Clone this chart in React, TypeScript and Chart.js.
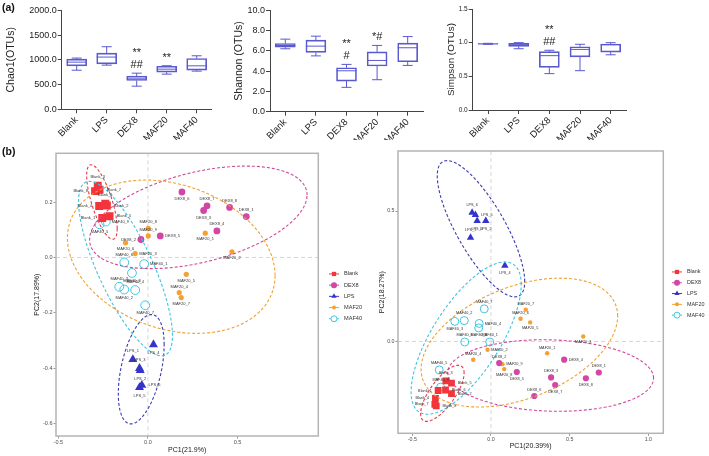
import React, { useEffect, useRef } from 'react';
import { Chart, registerables } from 'chart.js';

Chart.register(...registerables);

const FONT = "'Liberation Sans', Arial, Helvetica, sans-serif";

// ---------- (a) alpha diversity box plots ----------
const groups = ['Blank', 'LPS', 'DEX8', 'MAF20', 'MAF40'];

const chaoMin = [790, 892, 467, 710, 771];
const chaoQ1 = [878, 919, 581, 750, 791];
const chaoMed = [953, 1055, 615, 811, 878];
const chaoQ3 = [1014, 1136, 670, 870, 1027];
const chaoMax = [1035, 1264, 730, 880, 1081];
const chaoSig = [[], [], ['**', '##'], ['**'], []];
const chaoTicks = [0, 500, 1000, 1500, 2000];

const shannonMin = [6.2, 5.5, 2.4, 3.15, 4.56];
const shannonQ1 = [6.36, 5.84, 3.02, 4.5, 4.92];
const shannonMed = [6.52, 6.46, 4.03, 5.05, 6.3];
const shannonQ3 = [6.72, 7.05, 4.33, 5.9, 6.75];
const shannonMax = [7.15, 7.44, 4.66, 6.53, 7.4];
const shannonSig = [[], [], ['**', '#'], ['*#'], []];
const shannonTicks = [0, 2, 4, 6, 8, 10];

const simpsonMin = [0.975, 0.91, 0.54, 0.584, 0.82];
const simpsonQ1 = [0.978, 0.946, 0.634, 0.79, 0.86];
const simpsonMed = [0.982, 0.966, 0.807, 0.9, 0.97];
const simpsonQ3 = [0.986, 0.99, 0.866, 0.94, 0.98];
const simpsonMax = [0.99, 1.0, 0.887, 0.976, 1.0];
const simpsonSig = [[], [], ['**', '##'], [], []];
const simpsonTicks = [0, 0.5, 1.0, 1.5];

// ---------- (b) PCA scatter plots ----------
const pcaGroups = ['Blank', 'DEX8', 'LPS', 'MAF20', 'MAF40'];

const leftBlank = [[-0.28, 0.26], [-0.295, 0.24], [-0.27, 0.245], [-0.238, 0.195], [-0.272, 0.186], [-0.229, 0.188], [-0.255, 0.143], [-0.214, 0.149]];
const leftBlankIds = [3, 8, 7, 6, 4, 2, 1, 5];
const leftDex = [[0.19, 0.237], [0.33, 0.187], [0.311, 0.17], [0.456, 0.181], [0.549, 0.148], [0.385, 0.096], [0.069, 0.078], [-0.039, 0.065]];
const leftDexIds = [6, 7, 3, 8, 1, 4, 5, 2];
const leftLps = [[0.031, -0.315], [-0.084, -0.369], [-0.047, -0.401], [-0.043, -0.409], [-0.034, -0.462], [-0.047, -0.47]];
const leftLpsIds = [4, 1, 3, 2, 6, 5];
const leftMaf20 = [[0.002, 0.105], [0.002, 0.078], [-0.125, 0.053], [-0.071, 0.014], [0.32, 0.088], [0.469, 0.02], [0.214, -0.061], [0.175, -0.127], [0.186, -0.145]];
const leftMaf20Ids = [8, 9, 6, 3, 1, 2, 5, 4, 7];
const leftMaf40 = [[-0.132, -0.018], [-0.021, -0.024], [-0.089, -0.056], [-0.16, -0.106], [-0.132, -0.116], [-0.071, -0.118], [-0.015, -0.173], [-0.235, 0.13], [-0.27, 0.12]];
const leftMaf40Ids = [6, 1, 8, 3, 2, 4, 7, 9, 5];
const leftXTicks = [-0.5, 0, 0.5];
const leftYTicks = [-0.6, -0.4, -0.2, 0, 0.2];

const rightBlank = [[-0.287, -0.151], [-0.251, -0.16], [-0.336, -0.188], [-0.289, -0.186], [-0.251, -0.2], [-0.353, -0.218], [-0.357, -0.241], [-0.348, -0.247]];
const rightBlankIds = [3, 5, 1, 6, 2, 4, 7, 8];
const rightDex = [[0.052, -0.083], [0.164, -0.117], [0.465, -0.07], [0.382, -0.138], [0.408, -0.167], [0.603, -0.141], [0.685, -0.119], [0.275, -0.209]];
const rightDexIds = [2, 5, 4, 3, 7, 8, 1, 6];
const rightLps = [[-0.12, 0.494], [-0.099, 0.485], [-0.088, 0.462], [-0.033, 0.462], [-0.13, 0.398], [0.088, 0.291]];
const rightLpsIds = [6, 5, 3, 2, 1, 4];
const rightMaf20 = [[0.221, 0.122], [0.188, 0.087], [0.249, 0.073], [0.586, 0.019], [0.357, -0.045], [-0.022, -0.032], [-0.113, -0.07], [0.073, -0.087], [0.084, -0.106]];
const rightMaf20Ids = [7, 6, 5, 3, 1, 2, 4, 9, 8];
const rightMaf40 = [[-0.043, 0.125], [-0.17, 0.08], [-0.23, 0.077], [-0.075, 0.069], [-0.078, 0.052], [-0.167, -0.002], [-0.008, -0.002], [-0.329, -0.109], [-0.32, -0.175]];
const rightMaf40Ids = [7, 2, 3, 4, 8, 6, 1, 5, 9];
const rightXTicks = [-0.5, 0, 0.5, 1.0];
const rightYTicks = [0, 0.5];

// label placement (style only): t=top, b=bottom, l=left, r=right
const leftSides = [
  ['t', 'l', 'r', 't', 'l', 'r', 'l', 'r'],
  ['b', 't', 'b', 't', 't', 't', 'r', 'l'],
  ['b', 't', 't', 'b', 'r', 'b'],
  ['t', 't', 'b', 'r', 'b', 'b', 'b', 't', 'b'],
  ['t', 'r', 'b', 't', 'b', 't', 'b', 'r', 'b'],
];
const rightSides = [
  ['t', 'r', 'l', 'r', 'r', 'l', 'l', 'r'],
  ['t', 'b', 'r', 't', 'b', 'b', 't', 't'],
  ['t', 'r', 'b', 'b', 't', 'b'],
  ['t', 't', 'b', 'b', 't', 'r', 't', 'r', 'b'],
  ['t', 't', 'b', 'r', 'b', 't', 't', 't', 't'],
];

const groupStyles = [
  { shape: 'rect', color: '#f3343a', fill: '#f3343a', bw: 0, line: '#e83a4a' },
  { shape: 'circle', color: '#d246a6', fill: '#d246a6', bw: 0, line: '#d0489a' },
  { shape: 'triangle', color: '#3434cc', fill: '#3434cc', bw: 0, line: '#3b3bb0' },
  { shape: 'circle', color: '#f5a033', fill: '#f5a033', bw: 0, line: '#f0a030' },
  { shape: 'circle', color: '#3fc6e4', fill: 'rgba(255,255,255,0)', bw: 1, line: '#3cc4e2' },
];

const BOX_COLOR = '#5959d0';
const AXIS = '#444';

function drawShape(ctx: any, shape: string, x: number, y: number, r: number, fill: string, stroke: string, bw: number) {
  ctx.beginPath();
  if (shape === 'rect') {
    const s = r * Math.SQRT1_2;
    ctx.rect(x - s, y - s, 2 * s, 2 * s);
  } else if (shape === 'triangle') {
    for (let k = 0; k < 3; k++) {
      const a = -Math.PI / 2 + (k * 2 * Math.PI) / 3;
      const px = x + Math.cos(a) * r;
      const py = y + Math.sin(a) * r;
      if (k === 0) ctx.moveTo(px, py);
      else ctx.lineTo(px, py);
    }
    ctx.closePath();
  } else {
    ctx.arc(x, y, r, 0, Math.PI * 2);
  }
  ctx.fillStyle = fill;
  ctx.fill();
  if (bw) {
    ctx.lineWidth = bw;
    ctx.strokeStyle = stroke;
    ctx.stroke();
  }
}

function boxChart(canvas: HTMLCanvasElement, s: any) {
  const plugin = {
    id: 'whiskers',
    afterDatasetsDraw(chart: any) {
      const { ctx } = chart;
      const x = chart.scales.x;
      const y = chart.scales.y;
      ctx.save();
      ctx.strokeStyle = BOX_COLOR;
      ctx.lineWidth = 1;
      const line = (x1: number, y1: number, x2: number, y2: number) => {
        ctx.beginPath();
        ctx.moveTo(x1, y1);
        ctx.lineTo(x2, y2);
        ctx.stroke();
      };
      s.med.forEach((m: number, i: number) => {
        const cx = x.getPixelForValue(i);
        const yMax = y.getPixelForValue(s.max[i]);
        const yMin = y.getPixelForValue(s.min[i]);
        line(cx, yMax, cx, y.getPixelForValue(s.q3[i]));
        line(cx, y.getPixelForValue(s.q1[i]), cx, yMin);
        line(cx - 5, yMax, cx + 5, yMax);
        line(cx - 5, yMin, cx + 5, yMin);
        const ym = y.getPixelForValue(m);
        line(cx - 10, ym, cx + 10, ym);
      });
      ctx.fillStyle = '#222';
      ctx.font = `11px ${FONT}`;
      ctx.textAlign = 'center';
      ctx.textBaseline = 'alphabetic';
      s.sig.forEach((lines: string[], i: number) => {
        const cx = x.getPixelForValue(i);
        let base = y.getPixelForValue(s.max[i]) - 5;
        for (let k = lines.length - 1; k >= 0; k--) {
          ctx.fillText(lines[k], cx, base);
          base -= 12;
        }
      });
      ctx.restore();
    },
  };
  return new Chart(canvas, {
    type: 'bar',
    data: {
      labels: groups,
      datasets: [
        {
          data: s.q1.map((v: number, i: number) => [v, s.q3[i]]),
          backgroundColor: 'rgba(0,0,0,0)',
          borderColor: BOX_COLOR,
          borderWidth: 1,
          borderSkipped: false,
          barThickness: 20,
        },
      ],
    },
    options: {
      responsive: false,
      animation: false,
      events: [],
      layout: { padding: { top: s.padTop, right: s.padRight, left: 0, bottom: 0 } },
      plugins: { legend: { display: false }, tooltip: { enabled: false } },
      scales: {
        x: {
          type: 'category',
          offset: true,
          grid: { display: true, drawOnChartArea: false, drawTicks: true, tickLength: 4, color: AXIS, offset: false },
          border: { display: true, color: AXIS, width: 1 },
          ticks: { autoSkip: false, minRotation: 45, maxRotation: 45, padding: 1, color: '#222', font: { family: FONT, size: 9.5 } },
          afterFit: (sc: any) => { sc.height = s.xH; },
        },
        y: {
          type: 'linear',
          min: s.ticks[0],
          max: s.ticks[s.ticks.length - 1],
          afterBuildTicks: (sc: any) => { sc.ticks = s.ticks.map((v: number) => ({ value: v })); },
          grid: { display: true, drawOnChartArea: false, drawTicks: true, tickLength: 4, color: AXIS },
          border: { display: true, color: AXIS, width: 1 },
          ticks: { padding: 1, color: '#222', font: { family: FONT, size: s.tickSize }, callback: (v: any) => Number(v).toFixed(1) },
          title: { display: true, text: s.title, color: '#222', font: { family: FONT, size: s.titleSize }, padding: { top: s.titlePad, bottom: 0 } },
          afterFit: (sc: any) => { sc.width = s.yW; },
        },
      },
    },
    plugins: [plugin],
  } as any);
}

function ellipsePoints(pts: number[][], level: number) {
  const n = pts.length;
  const mx = pts.reduce((a, p) => a + p[0], 0) / n;
  const my = pts.reduce((a, p) => a + p[1], 0) / n;
  let sxx = 0, syy = 0, sxy = 0;
  pts.forEach(([x, y]) => {
    sxx += (x - mx) * (x - mx);
    syy += (y - my) * (y - my);
    sxy += (x - mx) * (y - my);
  });
  sxx /= n - 1; syy /= n - 1; sxy /= n - 1;
  const dfd = n - 1;
  const q = (dfd / 2) * (Math.pow(1 - level, -2 / dfd) - 1); // F(2, n-1) quantile
  const r = Math.sqrt(2 * q);
  const u11 = Math.sqrt(sxx);
  const u12 = sxy / u11;
  const u22 = Math.sqrt(Math.max(syy - u12 * u12, 0));
  const out: number[][] = [];
  for (let k = 0; k <= 100; k++) {
    const t = (k / 100) * Math.PI * 2;
    const c = Math.cos(t), sn = Math.sin(t);
    out.push([mx + r * c * u11, my + r * (c * u12 + sn * u22)]);
  }
  return out;
}

function pcaChart(canvas: HTMLCanvasElement, p: any) {
  const plugin = {
    id: 'pcaDecor',
    beforeDatasetsDraw(chart: any) {
      const { ctx, chartArea: a } = chart;
      const x = chart.scales.x, y = chart.scales.y;
      ctx.save();
      ctx.strokeStyle = '#d6d6d6';
      ctx.lineWidth = 1;
      ctx.setLineDash([4, 3]);
      const x0 = x.getPixelForValue(0);
      const y0 = y.getPixelForValue(0);
      ctx.beginPath(); ctx.moveTo(x0, a.top); ctx.lineTo(x0, a.bottom); ctx.stroke();
      ctx.beginPath(); ctx.moveTo(a.left, y0); ctx.lineTo(a.right, y0); ctx.stroke();
      ctx.restore();
    },
    afterDatasetsDraw(chart: any) {
      const { ctx, chartArea: a } = chart;
      const x = chart.scales.x, y = chart.scales.y;
      ctx.save();
      ctx.beginPath();
      ctx.rect(a.left, a.top, a.right - a.left, a.bottom - a.top);
      ctx.clip();
      p.sets.forEach((pts: number[][], gi: number) => {
        const e = ellipsePoints(pts, 0.95);
        ctx.beginPath();
        e.forEach(([ex, ey], k) => {
          const px = x.getPixelForValue(ex), py = y.getPixelForValue(ey);
          if (k === 0) ctx.moveTo(px, py); else ctx.lineTo(px, py);
        });
        ctx.setLineDash([3, 2]);
        ctx.lineWidth = 1.1;
        ctx.strokeStyle = groupStyles[gi].line;
        ctx.stroke();
      });
      ctx.setLineDash([]);
      ctx.fillStyle = '#333';
      ctx.font = `${p.labelSize}px ${FONT}`;
      p.sets.forEach((pts: number[][], gi: number) => {
        const r = p.radii[gi] + 1.5;
        pts.forEach(([vx, vy], k) => {
          const px = x.getPixelForValue(vx), py = y.getPixelForValue(vy);
          const label = `${pcaGroups[gi]}_${p.ids[gi][k]}`;
          const side = p.sides[gi][k];
          if (side === 't') { ctx.textAlign = 'center'; ctx.textBaseline = 'bottom'; ctx.fillText(label, px, py - r); }
          else if (side === 'b') { ctx.textAlign = 'center'; ctx.textBaseline = 'top'; ctx.fillText(label, px, py + r); }
          else if (side === 'l') { ctx.textAlign = 'right'; ctx.textBaseline = 'middle'; ctx.fillText(label, px - r, py); }
          else { ctx.textAlign = 'left'; ctx.textBaseline = 'middle'; ctx.fillText(label, px + r, py); }
        });
      });
      ctx.restore();
    },
    afterDraw(chart: any) {
      const { ctx, chartArea: a } = chart;
      ctx.save();
      ctx.strokeStyle = '#b4b4b4';
      ctx.lineWidth = 1.5;
      ctx.strokeRect(a.left, a.top, a.right - a.left, a.bottom - a.top);
      // legend
      const cy = (a.top + a.bottom) / 2 + p.legendShift;
      const lx = a.right + p.legendGap;
      pcaGroups.forEach((g, gi) => {
        const st = groupStyles[gi];
        const ly = cy + (gi - 2) * p.legendStep;
        ctx.strokeStyle = st.color;
        ctx.lineWidth = 1;
        ctx.beginPath(); ctx.moveTo(lx - 5, ly); ctx.lineTo(lx + 5, ly); ctx.stroke();
        drawShape(ctx, st.shape, lx, ly, gi === 3 ? 2 : 3, st.shape === 'circle' && st.bw ? '#fff' : st.fill, st.color, st.bw);
        ctx.fillStyle = '#333';
        ctx.font = `${p.legendSize}px ${FONT}`;
        ctx.textAlign = 'left';
        ctx.textBaseline = 'middle';
        ctx.fillText(g, lx + 10, ly);
      });
      ctx.restore();
    },
  };
  const tickFont = { family: FONT, size: p.tickSize };
  return new Chart(canvas, {
    type: 'scatter',
    data: {
      datasets: p.sets.map((pts: number[][], gi: number) => ({
        label: pcaGroups[gi],
        data: pts.map(([x, y]) => ({ x, y })),
        pointStyle: groupStyles[gi].shape,
        pointRadius: p.radii[gi],
        backgroundColor: groupStyles[gi].fill,
        borderColor: groupStyles[gi].color,
        borderWidth: groupStyles[gi].bw,
      })),
    },
    options: {
      responsive: false,
      animation: false,
      events: [],
      layout: { padding: { top: p.padTop, right: p.padRight, left: 0, bottom: 0 } },
      plugins: { legend: { display: false }, tooltip: { enabled: false } },
      scales: {
        x: {
          type: 'linear',
          min: p.xMin,
          max: p.xMax,
          afterBuildTicks: (sc: any) => { sc.ticks = p.xTicks.map((v: number) => ({ value: v })); },
          grid: { display: true, drawOnChartArea: false, drawTicks: true, tickLength: 2.5, color: '#999' },
          border: { display: false },
          ticks: { padding: 1, color: '#4d4d4d', font: tickFont, callback: (v: any) => Number(v).toFixed(1) },
          title: { display: true, text: p.xTitle, color: '#1a1a1a', font: { family: FONT, size: p.titleSize }, padding: { top: 0, bottom: p.xTitlePad } },
          afterFit: (sc: any) => { sc.height = p.xH; },
        },
        y: {
          type: 'linear',
          min: p.yMin,
          max: p.yMax,
          afterBuildTicks: (sc: any) => { sc.ticks = p.yTicks.map((v: number) => ({ value: v })); },
          grid: { display: true, drawOnChartArea: false, drawTicks: true, tickLength: 2.5, color: '#999' },
          border: { display: false },
          ticks: { padding: 1, color: '#4d4d4d', font: tickFont, callback: (v: any) => Number(v).toFixed(1) },
          title: { display: true, text: p.yTitle, color: '#1a1a1a', font: { family: FONT, size: p.titleSize }, padding: { top: p.yTitlePad, bottom: 0 } },
          afterFit: (sc: any) => { sc.width = p.yW; },
        },
      },
    },
    plugins: [plugin],
  } as any);
}

const boxFrames = [
  { left: 0, width: 225, yW: 61.7, xH: 30.7, padTop: 10.3, padRight: 13.3, titlePad: 5.2, titleSize: 10.5, tickSize: 9 },
  { left: 225, width: 220, yW: 45, xH: 28.3, padTop: 10.2, padRight: 22, titlePad: 7.7, titleSize: 10.5, tickSize: 9 },
  { left: 430, width: 220, yW: 42.7, xH: 30, padTop: 9, padRight: 24, titlePad: 15.1, titleSize: 9.8, tickSize: 6.5 },
];
const pcaFrames = [
  { left: 0, top: 145, width: 395, height: 311 },
  { left: 355, top: 143, width: 354, height: 313 },
];

export default function App() {
  const c1 = useRef<HTMLCanvasElement>(null);
  const c2 = useRef<HTMLCanvasElement>(null);
  const c3 = useRef<HTMLCanvasElement>(null);
  const c4 = useRef<HTMLCanvasElement>(null);
  const c5 = useRef<HTMLCanvasElement>(null);

  useEffect(() => {
    const charts: any[] = [];
    charts.push(boxChart(c1.current!, { ...boxFrames[0], min: chaoMin, q1: chaoQ1, med: chaoMed, q3: chaoQ3, max: chaoMax, sig: chaoSig, ticks: chaoTicks, title: 'Chao1(OTUs)' }));
    charts.push(boxChart(c2.current!, { ...boxFrames[1], min: shannonMin, q1: shannonQ1, med: shannonMed, q3: shannonQ3, max: shannonMax, sig: shannonSig, ticks: shannonTicks, title: 'Shannon (OTUs)' }));
    charts.push(boxChart(c3.current!, { ...boxFrames[2], min: simpsonMin, q1: simpsonQ1, med: simpsonMed, q3: simpsonQ3, max: simpsonMax, sig: simpsonSig, ticks: simpsonTicks, title: 'Simpson (OTUs)' }));
    charts.push(pcaChart(c4.current!, {
      sets: [leftBlank, leftDex, leftLps, leftMaf20, leftMaf40],
      ids: [leftBlankIds, leftDexIds, leftLpsIds, leftMaf20Ids, leftMaf40Ids],
      sides: leftSides,
      radii: [5.6, 3.4, 5.2, 2.6, 4.4],
      xMin: -0.513, xMax: 0.951, yMin: -0.646, yMax: 0.377,
      xTicks: leftXTicks, yTicks: leftYTicks,
      xTitle: 'PC1(21.9%)', yTitle: 'PC2(17.89%)',
      padTop: 8.3, padRight: 76.7, yW: 56, xH: 20, xTitlePad: 1.8, yTitlePad: 33.3,
      tickSize: 5.5, titleSize: 7, labelSize: 4, legendSize: 5.6, legendGap: 15.7, legendStep: 11.2, legendShift: 1.7,
    }));
    charts.push(pcaChart(c5.current!, {
      sets: [rightBlank, rightDex, rightLps, rightMaf20, rightMaf40],
      ids: [rightBlankIds, rightDexIds, rightLpsIds, rightMaf20Ids, rightMaf40Ids],
      sides: rightSides,
      radii: [4.8, 3.1, 4.3, 2.2, 4.0],
      xMin: -0.591, xMax: 1.095, yMin: -0.352, yMax: 0.73,
      xTicks: rightXTicks, yTicks: rightYTicks,
      xTitle: 'PC1(20.39%)', yTitle: 'PC2(18.27%)',
      padTop: 8, padRight: 45.7, yW: 43, xH: 22.7, xTitlePad: 5.8, yTitlePad: 22.5,
      tickSize: 5.3, titleSize: 7, labelSize: 3.8, legendSize: 5.4, legendGap: 13.7, legendStep: 10.8, legendShift: 1.4,
    }));
    return () => charts.forEach((c) => c.destroy());
  }, []);

  const abs = (l: number, t: number): any => ({ position: 'absolute', left: l, top: t });

  return (
    <div style={{ position: 'absolute', left: 0, top: 0, width: 709, height: 456, background: '#fff', overflow: 'hidden' }}>
      <canvas ref={c1} width={boxFrames[0].width} height={140} style={abs(boxFrames[0].left, 0)} />
      <canvas ref={c2} width={boxFrames[1].width} height={140} style={abs(boxFrames[1].left, 0)} />
      <canvas ref={c3} width={boxFrames[2].width} height={140} style={abs(boxFrames[2].left, 0)} />
      <canvas ref={c4} width={pcaFrames[0].width} height={pcaFrames[0].height} style={abs(pcaFrames[0].left, pcaFrames[0].top)} />
      <canvas ref={c5} width={pcaFrames[1].width} height={pcaFrames[1].height} style={abs(pcaFrames[1].left, pcaFrames[1].top)} />
      <div style={{ ...abs(2, 1), font: `bold 10.5px ${FONT}`, color: '#111' }}>(a)</div>
      <div style={{ ...abs(2, 145), font: `bold 10.5px ${FONT}`, color: '#111' }}>(b)</div>
    </div>
  );
}
